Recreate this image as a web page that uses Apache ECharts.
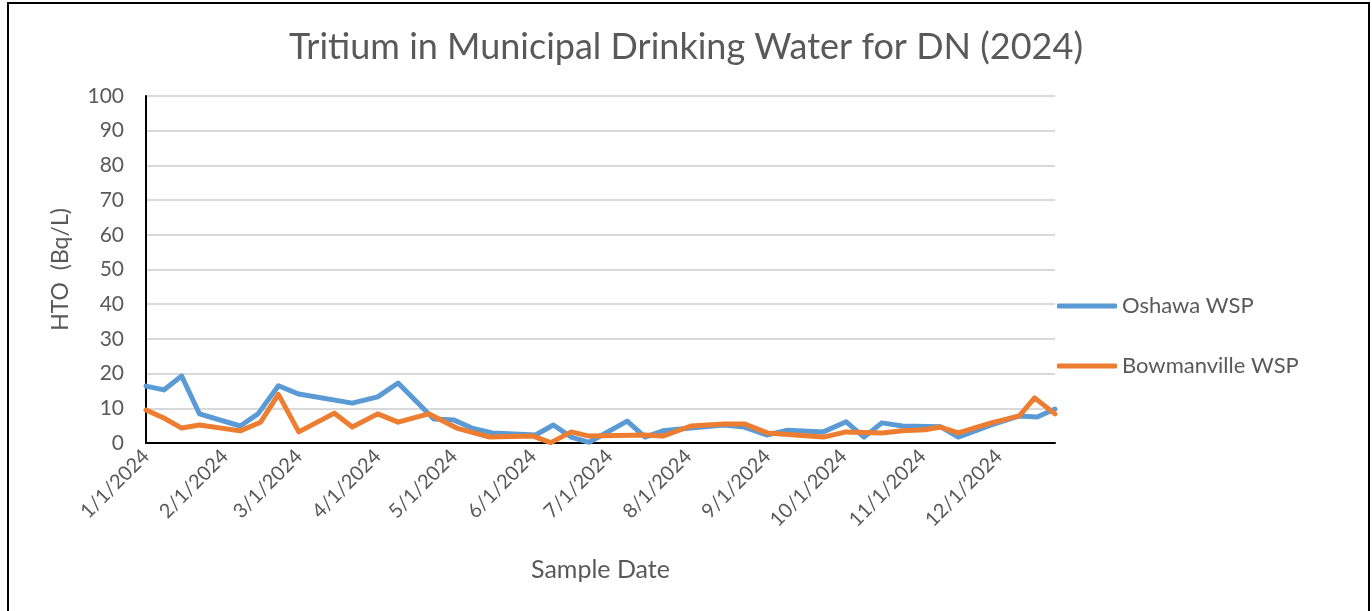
<!DOCTYPE html>
<html>
<head>
<meta charset="utf-8">
<title>Tritium in Municipal Drinking Water for DN (2024)</title>
<script src="https://cdn.jsdelivr.net/npm/echarts@6/dist/echarts.min.js"></script>
<style>
    html, body { margin: 0; padding: 0; background: #fff; }
    #chart { width: 1372px; height: 611px; }
    .frame {
        position: absolute; left: 7px; top: 2px; width: 1359px; height: 640px;
        border: 2px solid #000; pointer-events: none;
    }
</style>
</head>
<body>
<div id="chart"></div>
<div class="frame"></div>
<script>
// Oshawa WSP samples
var oshawaDates = ['2024-01-01', '2024-01-08', '2024-01-15', '2024-01-22', '2024-02-07', '2024-02-14',
    '2024-02-22', '2024-03-01', '2024-03-22', '2024-04-01', '2024-04-09', '2024-04-23', '2024-05-01',
    '2024-05-08', '2024-05-16', '2024-06-02', '2024-06-09', '2024-06-16', '2024-06-23', '2024-07-08',
    '2024-07-15', '2024-07-22', '2024-08-02', '2024-08-15', '2024-08-23', '2024-09-01', '2024-09-09',
    '2024-09-23', '2024-10-02', '2024-10-09', '2024-10-16', '2024-10-24', '2024-11-08', '2024-11-15',
    '2024-11-28', '2024-12-09', '2024-12-16', '2024-12-23'];
var oshawaValues = [16.4, 15.3, 19.3, 8.4, 4.9, 8.4,
    16.5, 14.1, 11.5, 13.3, 17.3, 6.9, 6.6,
    4.3, 2.9, 2.3, 5.2, 1.7, 0.2, 6.3,
    1.7, 3.5, 4.3, 5.2, 4.6, 2.3, 3.7,
    3.2, 6.1, 1.7, 5.8, 4.9, 4.7, 1.7,
    5.2, 7.8, 7.5, 9.8];

// Bowmanville WSP samples
var bowmanDates = ['2024-01-01', '2024-01-08', '2024-01-15', '2024-01-22', '2024-02-07', '2024-02-15',
    '2024-02-22', '2024-03-01', '2024-03-15', '2024-03-22', '2024-04-01', '2024-04-09', '2024-04-21',
    '2024-05-02', '2024-05-15', '2024-06-01', '2024-06-08', '2024-06-16', '2024-06-23', '2024-07-15',
    '2024-07-22', '2024-08-02', '2024-08-15', '2024-08-23', '2024-09-01', '2024-09-23', '2024-10-02',
    '2024-10-16', '2024-10-24', '2024-11-02', '2024-11-08', '2024-11-15', '2024-11-28', '2024-12-09',
    '2024-12-15', '2024-12-23'];
var bowmanValues = [9.5, 7.2, 4.3, 5.2, 3.5, 6.0,
    14.0, 3.2, 8.6, 4.6, 8.4, 6.0, 8.4,
    4.3, 1.7, 2.0, 0.1, 3.2, 2.0, 2.3,
    2.0, 4.9, 5.5, 5.5, 2.9, 1.7, 3.2,
    2.9, 3.5, 3.8, 4.6, 2.9, 5.8, 7.8,
    13.0, 8.4];

var yTicks = [0, 10, 20, 30, 40, 50, 60, 70, 80, 90, 100];

function pairs(dates, values) {
    return dates.map(function (d, i) { return [d, values[i]]; });
}

var textColor = '#595959';
var font = 'Lato, "Open Sans", sans-serif';

var myChart = echarts.init(document.getElementById('chart'));
var option = {
    backgroundColor: '#fff',
    animation: false,
    title: {
        text: 'Tritium in Municipal Drinking Water for DN (2024)',
        left: 'center',
        top: 24,
        textStyle: { color: textColor, fontSize: 36, fontWeight: 'normal', fontFamily: font }
    },
    legend: {
        orient: 'vertical',
        left: 1052,
        top: 290,
        icon: 'roundRect',
        itemWidth: 60,
        itemHeight: 5,
        itemGap: 38,
        textStyle: { color: textColor, fontSize: 22, fontFamily: font },
        data: ['Oshawa WSP', 'Bowmanville WSP']
    },
    grid: { left: 146, right: 317, top: 96, bottom: 168 },
    xAxis: {
        type: 'time',
        min: '2024-01-01',
        max: '2024-12-23',
        splitNumber: 12,
        minInterval: 28 * 86400000,
        maxInterval: 31 * 86400000,
        name: 'Sample Date',
        nameLocation: 'middle',
        nameGap: 114,
        nameTextStyle: { color: textColor, fontSize: 25, fontFamily: font },
        axisLine: { lineStyle: { color: '#000', width: 2 } },
        axisTick: { show: false },
        splitLine: { show: false },
        axisLabel: {
            rotate: 45,
            margin: 10,
            color: textColor,
            fontSize: 20,
            fontFamily: font,
            formatter: function (v) {
                var d = new Date(v);
                if (d.getDate() !== 1) return '';
                return (d.getMonth() + 1) + '/1/' + d.getFullYear();
            }
        }
    },
    yAxis: {
        type: 'value',
        min: yTicks[0],
        max: yTicks[yTicks.length - 1],
        interval: yTicks[1] - yTicks[0],
        name: 'HTO  (Bq/L)',
        nameLocation: 'middle',
        nameGap: 74,
        nameTextStyle: { color: textColor, fontSize: 23, fontFamily: font },
        axisLine: { show: true, lineStyle: { color: '#000', width: 2 } },
        axisTick: { show: false },
        splitLine: { lineStyle: { color: '#d9d9d9', width: 2 } },
        axisLabel: { color: textColor, fontSize: 21, fontFamily: font, margin: 22 }
    },
    series: [{
        name: 'Oshawa WSP',
        type: 'line',
        symbol: 'none',
        color: '#5b9bd5',
        lineStyle: { width: 5, cap: 'round', join: 'round' },
        data: pairs(oshawaDates, oshawaValues)
    }, {
        name: 'Bowmanville WSP',
        type: 'line',
        symbol: 'none',
        color: '#ed7d31',
        lineStyle: { width: 5, cap: 'round', join: 'round' },
        data: pairs(bowmanDates, bowmanValues)
    }]
};
myChart.setOption(option);
</script>
</body>
</html>
